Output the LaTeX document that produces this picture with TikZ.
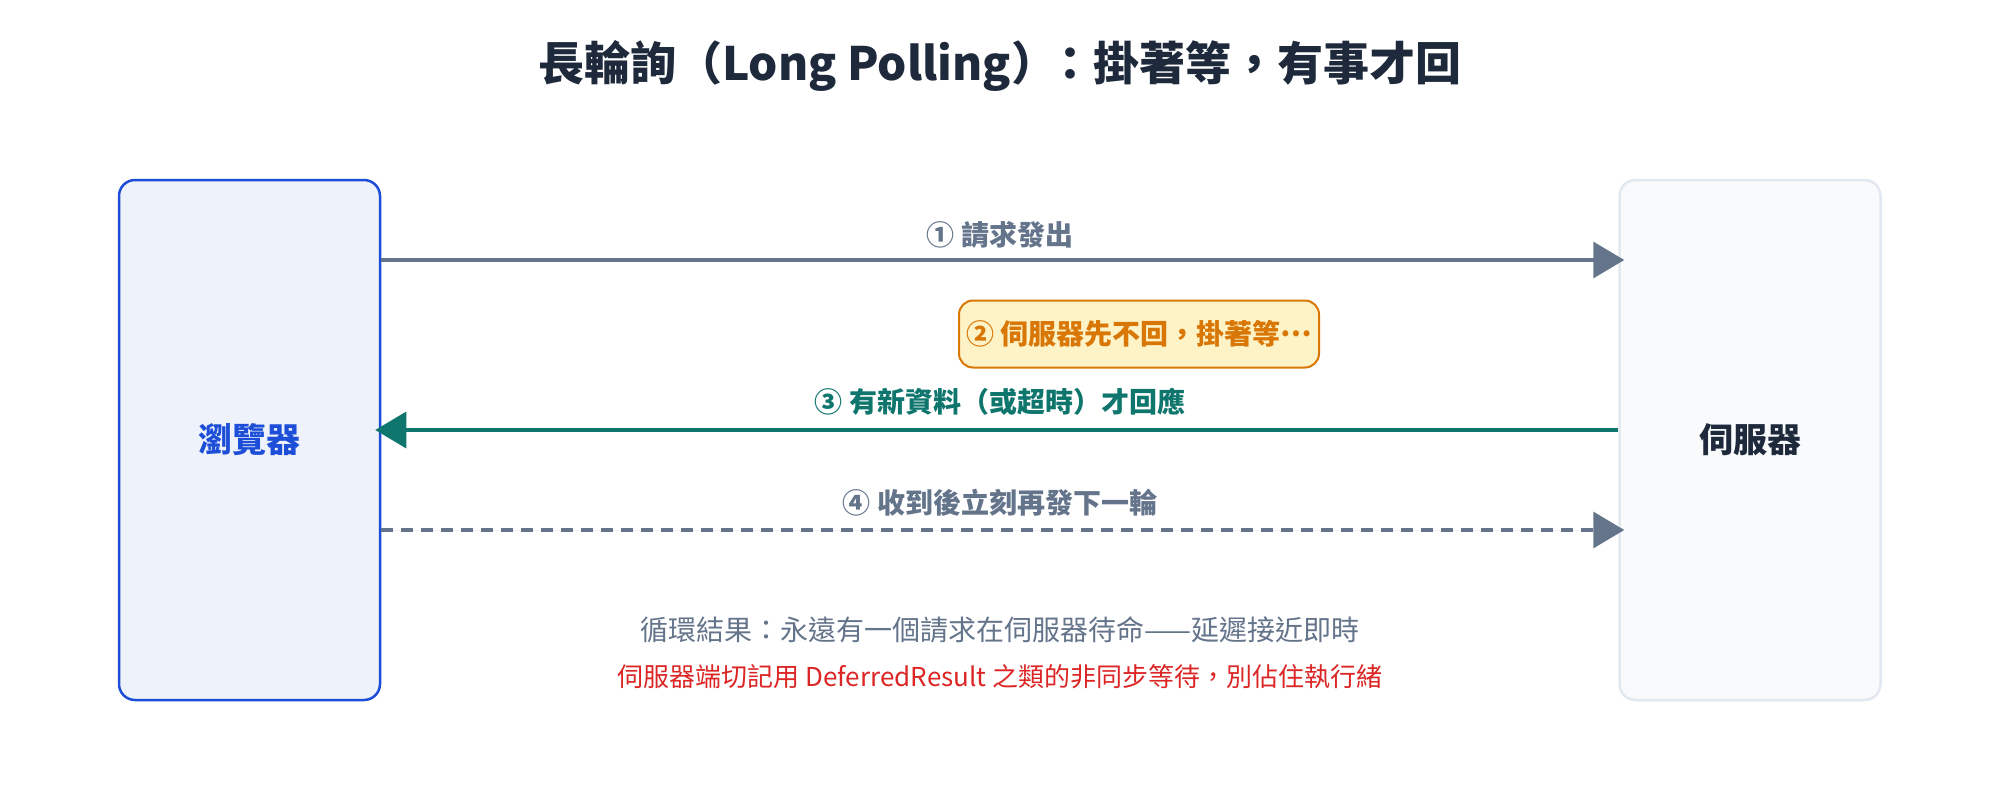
\documentclass[tikz,border=0pt]{standalone}
\usepackage{fontspec}
\setmainfont{Noto Sans CJK TC}
\usetikzlibrary{arrows.meta}
\definecolor{titlec}{HTML}{1E293B}
\definecolor{slatec}{HTML}{64748B}
\definecolor{bluec}{HTML}{1D4ED8}
\definecolor{bluefill}{HTML}{EEF2FB}
\definecolor{srvfill}{HTML}{F8FAFC}
\definecolor{srvline}{HTML}{E2E8F0}
\definecolor{tealc}{HTML}{0F766E}
\definecolor{orangec}{HTML}{D97706}
\definecolor{orangefill}{HTML}{FEF3C7}
\definecolor{redc}{HTML}{DC2626}
\tikzset{
  actor/.style={draw, rounded corners=16pt, line width=2.5pt, minimum width=261pt, minimum height=520pt, inner sep=0pt},
  msg/.style={line width=3.5pt, -{Triangle[length=31pt,width=36pt]}},
  lbl/.style={font=\fontsize{28}{33}\selectfont\bfseries, inner sep=0pt},
  note/.style={font=\fontsize{28}{33}\selectfont, inner sep=0pt}
}
\begin{document}
\begin{tikzpicture}[x=1pt,y=-1pt]
\useasboundingbox (0,0) rectangle (2000,800);
\fill[white] (0,0) rectangle (2000,800);
\node[font=\fontsize{46}{55}\selectfont\bfseries, text=titlec] (title) at (1000,66) {長輪詢（Long Polling）\kern-0.2em：掛著等，有事才回};
\node[actor, fill=bluefill, draw=bluec] (browser) at (249.5,440) {};
\node[font=\fontsize{34}{40}\selectfont\bfseries, text=bluec] (blbl) at (browser.center) {瀏覽器};
\node[actor, fill=srvfill, draw=srvline] (server) at (1750,440) {};
\node[font=\fontsize{34}{40}\selectfont\bfseries, text=titlec] (slbl) at (server.center) {伺服器};
% 1
\draw[msg, draw=slatec, fill=slatec] (browser.east |- 0,260) -- ([xshift=6pt]server.west |- 0,260);
\node[lbl, text=slatec] (l1) at (1000,235) {① 請求發出};
% 2
\node[draw=orangec, fill=orangefill, line width=2pt, rounded corners=14pt, minimum width=360pt, minimum height=67pt, inner sep=0pt] (wait) at (1139,334) {};
\node[lbl, text=orangec] (l2) at (wait.center) {② 伺服器先不回，掛著等\raisebox{0.3em}{…}};
% 3
\draw[msg, draw=tealc, fill=tealc] (server.west |- 0,430) -- ([xshift=-6pt]browser.east |- 0,430);
\node[lbl, text=tealc] (l3) at (1000,402) {③ 有新資料（或超時）才回應};
% 4
\draw[msg, draw=slatec, fill=slatec, dash pattern=on 12pt off 8pt] (browser.east |- 0,530) -- ([xshift=6pt]server.west |- 0,530);
\node[lbl, text=slatec] (l4) at (1000,503) {④ 收到後立刻再發下一輪};
% notes
\node[note, text=slatec] (n1) at (1000,630) {循環結果：永遠有一個請求在伺服器待命——延遲接近即時};
\node[note, font=\fontsize{26}{31}\selectfont, text=redc] (n2) at (1000,677) {伺服器端切記用 DeferredResult 之類的非同步等待，別佔住執行緒};
\end{tikzpicture}
\end{document}
